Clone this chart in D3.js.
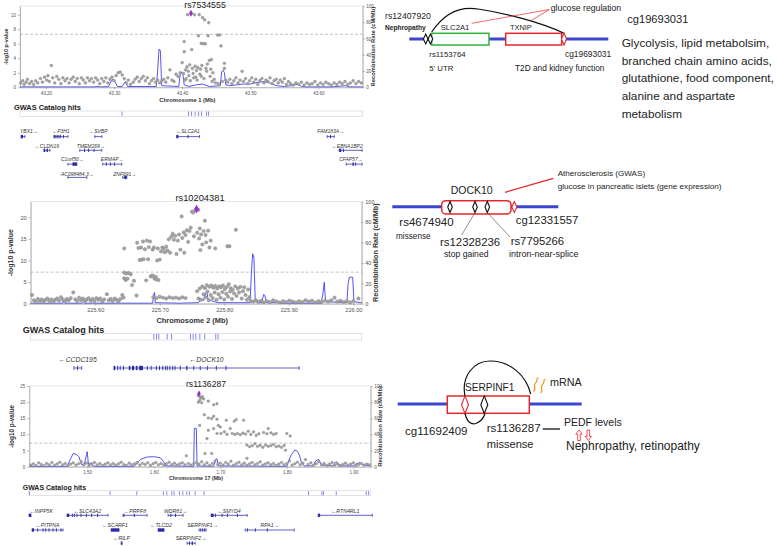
<!DOCTYPE html>
<html>
<head>
<meta charset="utf-8">
<script src="https://cdn.jsdelivr.net/npm/d3@7"></script>
<style>
  body { margin: 0; background: #fff; }
  svg { display: block; font-family: "Liberation Sans", Arial, sans-serif; }
</style>
</head>
<body>
<svg id="chart" width="777" height="546"></svg>
<script>
// ---------- data ----------
const recTicks = [0, 20, 40, 60, 80, 100];
const sigLine = 7.3;

// chr1 panel
const xTicks1 = [43.2, 43.3, 43.4, 43.5, 43.6];
const yTicks1 = [0, 2, 4, 6, 8, 10];
const lead1 = [43.413, 10.2];
const snps1 = [
  [43.163,0.6],[43.166,0.9],[43.168,0.4],[43.171,0.7],[43.173,1.1],[43.176,0.5],[43.179,0.8],[43.182,0.4],[43.185,0.9],[43.188,0.6],
  [43.192,1.2],[43.195,0.7],[43.198,1.4],[43.201,1.0],[43.203,1.6],[43.205,0.8],[43.208,3.0],[43.210,1.3],[43.213,0.6],[43.216,1.5],
  [43.219,1.1],[43.222,0.5],[43.225,1.3],[43.228,0.9],[43.231,1.2],[43.234,0.6],[43.237,1.1],[43.240,1.4],[43.243,0.8],[43.246,1.2],
  [43.249,0.5],[43.252,1.3],[43.255,1.0],[43.258,0.6],[43.261,1.3],[43.264,0.9],[43.267,1.2],[43.270,0.7],[43.273,1.3],[43.276,1.0],
  [43.279,0.5],[43.282,1.2],[43.285,0.8],[43.288,1.3],[43.291,0.6],[43.294,1.1],[43.297,1.4],[43.300,0.9],[43.303,1.6],[43.306,2.0],
  [43.309,2.1],[43.312,1.7],[43.315,1.2],[43.318,0.6],[43.321,1.0],[43.324,0.4],[43.328,0.7],[43.331,1.1],[43.334,1.4],[43.337,0.8],
  [43.340,1.2],[43.343,1.5],[43.346,0.9],[43.349,1.3],[43.352,0.5],[43.355,0.9],[43.358,1.2],[43.361,0.7],[43.364,1.0],[43.367,0.6],
  [43.370,0.9],[43.373,1.1],[43.376,0.7],[43.379,1.3],[43.382,2.4],[43.385,1.0],[43.388,0.8],[43.391,1.8],[43.394,1.5],[43.397,2.0],
  [43.400,3.4],[43.402,1.9],[43.403,4.9],[43.403,6.3],[43.404,1.0],[43.405,2.4],[43.406,1.2],[43.407,2.8],[43.408,10.0],[43.409,2.2],
  [43.410,1.6],[43.411,3.1],[43.412,0.9],[43.414,5.2],[43.415,2.6],[43.416,1.9],[43.417,1.3],[43.418,10.0],[43.419,2.9],[43.420,1.4],
  [43.421,2.3],[43.422,1.0],[43.423,2.7],[43.424,7.1],[43.425,10.0],[43.426,1.8],[43.427,2.5],[43.428,6.05],[43.428,1.5],[43.429,3.0],
  [43.430,9.6],[43.431,6.0],[43.432,1.2],[43.433,9.3],[43.434,6.0],[43.435,2.6],[43.436,2.2],[43.437,3.2],[43.438,7.1],[43.439,8.9],
  [43.440,3.7],[43.441,1.5],[43.442,2.5],[43.443,3.8],[43.444,0.8],[43.445,2.0],[43.447,1.1],[43.449,0.6],[43.452,7.2],[43.453,0.5],
  [43.455,7.2],[43.457,5.7],[43.459,0.8],[43.462,3.3],[43.462,2.6],[43.464,1.0],
  [43.467,0.7],[43.470,1.1],[43.473,0.5],[43.476,0.9],[43.479,1.3],[43.482,0.6],[43.485,1.0],[43.488,2.2],[43.490,0.8],[43.493,1.2],
  [43.496,0.5],[43.499,0.9],[43.502,1.3],[43.505,0.7],[43.508,1.1],[43.511,0.4],[43.514,0.9],[43.517,1.2],[43.520,0.6],[43.523,1.0],
  [43.526,0.8],[43.529,1.3],[43.532,0.5],[43.535,0.9],[43.538,1.1],[43.541,0.6],[43.544,1.0],[43.547,0.7],[43.550,1.2],[43.553,0.4],
  [43.556,0.8],[43.559,0.5],[43.563,0.3],[43.567,0.6],[43.571,0.4],[43.575,0.7],[43.579,0.3],[43.583,0.6],[43.587,0.4],[43.591,0.5],
  [43.595,0.8],[43.599,0.3],[43.603,0.6],[43.607,0.4],[43.611,0.7],[43.615,0.5],[43.619,0.3],[43.623,0.6],[43.627,0.4],[43.631,0.7],
  [43.635,0.5],[43.639,0.8],[43.643,0.4],[43.647,0.6],[43.651,0.9],[43.655,0.5],[43.659,0.8],[43.663,0.6]
];
const recomb1 = [
  [43.162,0.5],[43.270,0.5],[43.278,1],[43.280,0.5],[43.292,0.8],[43.296,8],[43.299,10],[43.302,6],[43.305,1],[43.312,1],
  [43.315,5],[43.317,7],[43.320,1],[43.362,1],[43.364,20],[43.366,47],[43.368,45],[43.370,2],[43.395,1],[43.397,15],
  [43.399,19],[43.401,16],[43.403,3],[43.410,1],[43.420,3],[43.430,4],[43.440,1],[43.456,2],[43.458,19],[43.460,21],
  [43.462,18],[43.464,3],[43.470,2],[43.480,3],[43.490,4],[43.500,4],[43.510,6],[43.520,7],[43.530,5],[43.538,2],
  [43.550,1],[43.560,2],[43.570,4],[43.575,1],[43.580,0.5],[43.620,0.5],[43.640,2],[43.645,0.5],[43.665,0.5]
];
const gwas1 = [43.3118, 43.4094, 43.4138, 43.4190, 43.4241, 43.4285, 43.4358, 43.4387];
const genes1 = [
  ['YBX1', 43.1635, 43.1693, 0, 1, [[43.1635,43.1665]]],
  ['P3H1', 43.2118, 43.2323, 0, -1, [[43.2118,43.2128],[43.2140,43.2150],[43.2160,43.2170],[43.2185,43.2192],[43.2205,43.2212],[43.2250,43.2256]]],
  ['SVBP', 43.2718, 43.2821, 0, -1, []],
  ['SLC2A1', 43.3919, 43.4255, 0, -1, [[43.3919,43.3945],[43.4080,43.4085]]],
  ['FAM183A', 43.6129, 43.6232, 0, 1, [[43.6170,43.6176]]],
  ['CLDN19', 43.1971, 43.2059, 1, -1, [[43.1971,43.1990],[43.2010,43.2030]]],
  ['TMEM269', 43.2498, 43.2821, 1, 1, [[43.2560,43.2566],[43.2620,43.2630],[43.2700,43.2706]]],
  ['EBNA1BP2', 43.6305, 43.6642, 1, -1, [[43.6305,43.6335],[43.6360,43.6366]]],
  ['C1orf50', 43.2323, 43.2455, 2, 1, [[43.2390,43.2455]]],
  ['ERMAP', 43.2835, 43.3113, 2, 1, [[43.2880,43.2886],[43.2940,43.2946],[43.3000,43.3006]]],
  ['CFAP57', 43.6408, 43.6642, 2, 1, [[43.6500,43.6520],[43.6540,43.6546]]],
  ['AC098484.3', 43.2323, 43.2601, 3, 1, []],
  ['ZNF691', 43.3128, 43.3187, 3, 1, [[43.3150,43.3187]]]
];

// chr2 panel
const xTicks2 = [225.6, 225.7, 225.8, 225.9, 226.0];
const yTicks2 = [0, 5, 10, 15, 20];
const lead2 = [225.757, 21.9];
const snps2 = [
  [225.502,2.0],[225.505,0.8],[225.508,0.4],[225.511,1.1],[225.514,0.6],[225.517,1.0],[225.520,0.5],[225.523,0.9],[225.526,1.2],[225.529,0.6],
  [225.532,1.0],[225.535,0.4],[225.538,0.9],[225.541,1.2],[225.544,0.7],[225.547,1.5],[225.550,0.9],[225.553,0.5],[225.556,1.1],[225.559,0.8],
  [225.562,1.3],[225.566,2.6],[225.569,1.0],[225.572,0.6],[225.575,1.4],[225.578,0.8],[225.581,1.2],[225.584,0.5],[225.587,1.0],[225.590,1.3],
  [225.593,0.7],[225.596,1.1],[225.599,0.6],[225.602,1.3],[225.605,0.9],[225.608,1.2],[225.611,0.5],[225.614,1.0],[225.618,2.2],[225.621,0.8],
  [225.624,1.1],[225.627,0.6],[225.630,1.2],[225.633,0.9],[225.636,0.5],[225.639,1.1],[225.642,2.0],[225.644,1.4],
  [225.645,12.8],[225.645,7.2],[225.648,7.0],[225.652,7.1],[225.645,5.9],[225.647,5.5],[225.650,5.8],[225.655,6.8],[225.657,4.3],[225.660,5.3],
  [225.664,1.9],[225.665,14.1],[225.667,12.9],[225.669,10.1],[225.671,13.0],[225.672,10.2],[225.674,14.4],[225.675,10.3],[225.677,12.6],[225.679,5.4],
  [225.680,14.6],[225.682,10.3],[225.683,13.1],[225.685,14.4],[225.686,6.3],[225.688,6.5],[225.689,12.5],[225.690,6.4],[225.691,13.0],[225.692,5.8],
  [225.694,6.2],[225.695,5.6],[225.696,10.0],[225.697,12.8],[225.698,5.5],[225.700,10.2],[225.702,12.1],[225.704,13.0],[225.706,12.7],[225.708,11.9],
  [225.710,13.2],[225.712,12.3],[225.714,14.9],[225.716,11.8],[225.718,15.5],[225.720,16.2],[225.722,14.8],[225.724,15.7],[225.726,11.5],[225.728,14.6],
  [225.730,16.0],[225.732,12.5],[225.734,20.2],[225.735,15.2],[225.737,16.5],[225.738,11.8],[225.740,15.9],[225.742,17.0],[225.744,14.3],[225.746,16.8],
  [225.748,17.6],[225.750,21.3],[225.752,21.1],[225.753,15.6],[225.755,21.6],[225.758,16.4],[225.760,21.7],[225.761,15.1],[225.762,17.4],[225.763,12.4],
  [225.764,16.0],[225.766,13.7],[225.768,16.8],[225.770,19.2],[225.771,15.9],[225.772,14.2],[225.775,16.9],[225.777,13.0],[225.779,14.6],[225.786,12.8],
  [225.805,13.3],[225.808,13.3],[225.818,17.1],
  [225.690,1.5],[225.695,1.3],[225.700,1.6],[225.705,1.4],[225.710,1.2],[225.715,1.5],[225.720,1.3],[225.725,1.4],[225.730,1.2],[225.735,1.5],[225.740,1.3],
  [225.758,2.9],[225.760,1.2],[225.762,3.5],[225.764,0.9],[225.766,4.0],[225.768,2.2],[225.770,3.6],[225.771,1.5],[225.773,4.3],[225.774,2.8],
  [225.776,0.8],[225.777,3.9],[225.779,2.0],[225.780,4.2],[225.782,1.3],[225.783,3.7],[225.785,2.6],[225.786,4.1],[225.788,0.9],[225.789,3.5],
  [225.791,2.2],[225.792,4.0],[225.794,1.4],[225.795,3.8],[225.797,2.7],[225.798,4.2],[225.800,1.0],[225.801,3.4],[225.803,2.3],[225.804,3.9],
  [225.806,1.6],[225.807,4.5],[225.809,2.8],[225.810,3.6],[225.812,1.1],[225.813,3.2],[225.815,2.4],[225.817,4.0],[225.819,1.8],[225.821,3.5],
  [225.823,2.6],[225.825,3.9],[225.827,1.2],[225.829,2.9],[225.831,3.8],[225.833,2.0],[225.835,0.9],[225.837,3.3],[225.839,1.5],[225.841,0.6],
  [225.845,0.5],[225.849,0.8],[225.853,0.4],[225.857,0.7],[225.861,0.3],[225.866,0.6],[225.871,0.4],[225.876,0.8],[225.881,0.5],[225.886,0.3],
  [225.891,0.6],[225.896,0.4],[225.901,0.7],[225.906,0.5],[225.911,0.3],[225.916,0.6],[225.921,0.4],[225.926,0.8],[225.931,0.5],[225.936,0.7],
  [225.941,0.3],[225.946,0.6],[225.951,0.4],[225.956,0.7],[225.961,0.5],[225.966,0.8],[225.971,1.4],[225.975,0.5],[225.980,0.7],[225.985,0.4],
  [225.990,0.6],[225.995,0.3],[226.000,0.6],[226.008,1.2]
];
const recomb2 = [
  [225.500,0.5],[225.550,0.5],[225.551,2],[225.553,0.5],[225.580,0.5],[225.582,1.5],[225.584,0.5],[225.640,0.5],[225.689,0.5],[225.691,10],
  [225.692,11],[225.693,1],[225.730,0.5],[225.760,1],[225.765,5],[225.768,3],[225.771,10],[225.773,12],[225.775,4],[225.780,3],
  [225.790,1],[225.840,1],[225.842,30],[225.844,49],[225.846,45],[225.848,2],[225.858,1],[225.861,9],[225.863,8],[225.865,1],
  [225.880,1],[225.882,2],[225.884,0.5],[225.950,0.5],[225.953,10],[225.955,21],[225.957,2],[225.990,1],[225.992,20],[225.994,26],
  [225.999,26],[226.001,2],[226.013,1]
];
const gwas2 = [225.6909, 225.6950, 225.6986, 225.7115, 225.7183, 225.7477, 225.7517, 225.7559, 225.7621, 225.7698, 225.7868, 225.7904];
const genes2 = [
  ['CCDC195', 225.567, 225.579, 0, -1, [[225.572,225.573]]],
  ['DOCK10', 225.629, 225.916, 0, -1, [
    [225.629,225.631],[225.634,225.6355],[225.638,225.639],[225.643,225.644],[225.652,225.6545],[225.657,225.6605],[225.663,225.6655],
    [225.668,225.674],[225.680,225.681],[225.686,225.687],[225.694,225.695],[225.699,225.700],[225.704,225.705],[225.708,225.709],
    [225.711,225.712],[225.715,225.716],[225.7195,225.7205],[225.723,225.724],[225.731,225.732],[225.741,225.743],[225.752,225.753],
    [225.762,225.763],[225.773,225.774],[225.787,225.788],[225.802,225.803]]]
];

// chr17 panel
const xTicks3 = [1.5, 1.6, 1.7, 1.8, 1.9];
const yTicks3 = [0, 5, 10, 15, 20, 25];
const lead3 = [1.668, 22.6];
const snps3 = [
  [1.415,0.5],[1.419,0.9],[1.423,0.4],[1.427,1.2],[1.431,0.7],[1.435,0.3],[1.439,1.0],[1.443,0.6],[1.447,1.3],[1.451,0.5],
  [1.455,0.9],[1.459,1.4],[1.463,0.6],[1.467,1.0],[1.471,0.4],[1.475,0.8],[1.479,1.2],[1.483,0.5],[1.487,0.9],[1.491,1.5],
  [1.495,0.7],[1.499,1.1],[1.503,0.4],[1.507,0.9],[1.511,1.3],[1.515,0.6],[1.519,1.0],[1.523,0.4],[1.527,0.8],[1.531,1.2],
  [1.535,0.6],[1.539,1.0],[1.543,0.5],[1.547,0.9],[1.551,1.4],[1.555,0.7],[1.559,0.4],[1.563,1.1],[1.567,0.6],[1.571,0.9],
  [1.575,1.3],[1.579,0.5],[1.583,1.0],[1.587,0.7],[1.591,1.2],[1.595,0.4],[1.599,0.9],[1.603,1.3],[1.607,0.6],[1.611,1.0],
  [1.615,0.5],[1.619,0.9],[1.623,1.4],[1.627,0.7],[1.631,1.1],[1.635,0.5],[1.639,0.9],[1.643,1.2],[1.647,0.6],[1.649,3.4],
  [1.652,1.0],[1.656,0.5],[1.660,0.9],[1.664,1.3],
  [1.668,0.8],[1.672,1.5],[1.676,0.6],[1.680,1.2],[1.684,0.4],[1.688,1.0],[1.692,1.6],[1.696,0.7],[1.700,1.1],[1.704,0.5],
  [1.708,1.3],[1.712,0.8],[1.716,1.7],[1.720,0.5],[1.724,1.0],[1.728,1.4],[1.732,0.6],[1.736,1.1],[1.740,0.4],[1.744,0.9],
  [1.748,1.3],[1.752,0.6],[1.756,1.0],[1.760,1.5],[1.764,0.5],[1.768,0.9],[1.772,1.2],[1.776,0.6],[1.780,1.0],[1.784,0.4],
  [1.788,0.8],[1.792,1.3],[1.796,0.6],[1.800,1.0],[1.804,1.8],[1.808,0.5],[1.812,0.9],[1.816,1.4],[1.820,0.6],[1.824,1.1],
  [1.828,2.2],[1.832,0.7],[1.836,1.2],[1.840,0.5],[1.844,0.9],[1.848,1.5],[1.852,0.6],[1.856,1.0],[1.860,0.4],[1.864,0.8],
  [1.868,1.3],[1.872,0.5],[1.876,0.9],[1.880,0.4],[1.884,0.7],[1.888,1.1],[1.892,0.5],[1.896,0.8],[1.900,1.2],[1.904,0.4],
  [1.908,0.7],[1.912,1.0],[1.916,0.5],[1.920,0.8],[1.924,0.6],
  [1.667,22.0],[1.670,21.6],[1.669,20.6],[1.671,21.3],[1.673,21.7],[1.675,21.0],[1.667,20.0],[1.672,19.8],[1.682,20.3],[1.690,19.2],
  [1.695,19.5],[1.676,16.1],[1.682,15.1],[1.687,14.9],[1.690,15.6],[1.695,14.7],[1.697,12.8],[1.700,12.3],[1.709,14.4],[1.721,14.1],
  [1.724,14.6],[1.735,14.4],[1.669,12.8],[1.682,11.3],[1.690,11.8],[1.695,10.3],[1.701,10.3],[1.706,10.8],[1.710,10.0],[1.715,11.8],
  [1.718,10.3],[1.722,10.0],[1.726,10.3],[1.730,9.9],[1.734,10.4],[1.738,10.1],[1.742,11.0],[1.746,10.0],[1.750,10.8],[1.754,9.7],
  [1.758,10.2],[1.765,10.6],[1.770,10.2],[1.772,11.8],[1.776,10.5],[1.780,10.0],[1.784,10.3],[1.800,10.3],[1.805,9.5],
  [1.680,8.7],[1.740,6.7],[1.744,6.2],[1.748,6.5],[1.752,7.1],[1.756,6.3],[1.760,6.6],[1.764,6.0],[1.768,6.7],[1.772,6.3],
  [1.776,6.5],[1.780,6.9],[1.784,6.2],[1.788,6.4],[1.792,6.0],[1.796,6.6],[1.798,5.1],[1.677,4.1],[1.687,4.1],[1.740,2.6]
];
const recomb3 = [
  [1.413,0.5],[1.470,0.5],[1.474,8],[1.479,16.5],[1.484,15],[1.488,12],[1.491,3],[1.495,1],[1.499,15],[1.500,18.6],
  [1.502,2],[1.505,5],[1.508,1],[1.515,0.5],[1.570,0.5],[1.575,4],[1.580,9],[1.590,12],[1.600,12.4],[1.610,11],
  [1.615,6],[1.618,1],[1.660,0.5],[1.661,47.5],[1.664,47.5],[1.665,1],[1.690,0.5],[1.693,9],[1.695,10],[1.697,1],
  [1.800,0.5],[1.803,8],[1.807,15],[1.812,20.7],[1.816,19],[1.819,14],[1.822,5],[1.826,1],[1.840,1],[1.843,7],
  [1.848,9],[1.852,2],[1.870,1],[1.872,5],[1.875,6],[1.878,1],[1.900,1],[1.905,4],[1.910,5],[1.915,2],[1.926,1]
];
const gwas3 = [1.413, 1.5344, 1.5745, 1.6145, 1.6196, 1.6271, 1.6306, 1.6386, 1.6437, 1.6497, 1.6536, 1.6622, 1.6757,
  1.8326, 1.8527, 1.8551, 1.8742, 1.9193, 1.9228];
const genes3 = [
  ['INPP5K', 1.4126, 1.4156, 0, -1, [[1.4126,1.4156]]],
  ['SLC43A2', 1.4697, 1.5313, 0, -1, [[1.4697,1.4730],[1.4770,1.4775],[1.4800,1.4805],[1.4840,1.4850],[1.4900,1.4905],[1.4980,1.4985],[1.5060,1.5065],[1.5150,1.5155]]],
  ['PRPF8', 1.5539, 1.5900, 0, -1, [[1.5545,1.5550],[1.5700,1.5705]]],
  ['WDR81', 1.6216, 1.6441, 0, 1, [[1.6250,1.6256],[1.6320,1.6330]]],
  ['SMYD4', 1.6862, 1.7404, 0, -1, [[1.6862,1.6900],[1.6920,1.6930],[1.7020,1.7030],[1.7100,1.7105],[1.7250,1.7255]]],
  ['RTN4RL1', 1.8471, 1.9283, 0, -1, [[1.8471,1.8500]]],
  ['PITPNA', 1.4171, 1.4637, 1, -1, [[1.4171,1.4200],[1.4250,1.4256],[1.4330,1.4340],[1.4370,1.4376],[1.4420,1.4426],[1.4480,1.4486],[1.4530,1.4536],[1.4600,1.4606]]],
  ['SCARF1', 1.5359, 1.5479, 1, -1, [[1.5359,1.5479]]],
  ['TLCD2', 1.6065, 1.6155, 1, -1, [[1.6065,1.6155]]],
  ['SERPINF1', 1.6682, 1.6787, 1, 1, [[1.6700,1.6705],[1.6730,1.6735],[1.6760,1.6765]]],
  ['RPA1', 1.7374, 1.8111, 1, 1, [[1.7400,1.7405],[1.7520,1.7530],[1.7700,1.7705]]],
  ['RILP', 1.5510, 1.5524, 2, -1, [[1.5510,1.5524]]],
  ['SERPINF2', 1.6501, 1.6621, 2, 1, [[1.6530,1.6540],[1.6570,1.6590]]]
];

// ---------- drawing ----------
const FONT = '"Liberation Sans", Arial, sans-serif';
const svg = d3.select('#chart');

function styleAxis(sel, fs) {
  sel.attr('font-size', fs).attr('font-family', FONT);
  sel.select('.domain').attr('stroke', '#8a8a8a').attr('stroke-width', 0.6);
  sel.selectAll('.tick line').attr('stroke', '#8a8a8a').attr('stroke-width', 0.6);
  sel.selectAll('.tick text').attr('fill', '#555');
}

function drawPanel(c) {
  const x = d3.scaleLinear().domain(c.xDomain).range([c.left, c.right]);
  const y = d3.scaleLinear().domain([0, c.yMax]).range([c.bottom, c.top]);
  const yr = d3.scaleLinear().domain([0, 100]).range([c.bottom, c.top]);
  const g = svg.append('g');

  g.append('rect')
    .attr('x', c.left).attr('y', c.top)
    .attr('width', c.right - c.left).attr('height', c.bottom - c.top)
    .attr('fill', 'none').attr('stroke', '#d8d8d8').attr('stroke-width', 0.6);

  // 5e-8 line
  g.append('line')
    .attr('x1', c.left).attr('x2', c.right)
    .attr('y1', y(sigLine)).attr('y2', y(sigLine))
    .attr('stroke', '#a8a8a8').attr('stroke-width', 0.7).attr('stroke-dasharray', '3,2');

  // recombination rate
  g.append('path').datum(c.recomb)
    .attr('fill', 'none').attr('stroke', '#2b2bf0').attr('stroke-width', 0.8)
    .attr('d', d3.line().x(d => x(d[0])).y(d => yr(d[1])));

  // SNPs
  g.append('g').selectAll('circle').data(c.snps).join('circle')
    .attr('cx', d => x(d[0])).attr('cy', d => y(d[1])).attr('r', c.r)
    .attr('fill', '#a4a4a4').attr('stroke', '#7e7e7e').attr('stroke-width', 0.4);

  g.append('path')
    .attr('d', d3.symbol(d3.symbolDiamond, c.r * c.r * 7)())
    .attr('transform', `translate(${x(c.lead[0])},${y(c.lead[1])})`)
    .attr('fill', '#9b2fcb');

  // axes
  g.append('g').attr('transform', `translate(${c.left},0)`)
    .call(d3.axisLeft(y).tickValues(c.yTicks).tickSize(2).tickPadding(2).tickSizeOuter(0))
    .call(styleAxis, c.tickFs);
  g.append('g').attr('transform', `translate(${c.right},0)`)
    .call(d3.axisRight(yr).tickValues(recTicks).tickSize(2).tickPadding(1.5).tickSizeOuter(0))
    .call(styleAxis, c.tickFs);
  g.append('g').attr('transform', `translate(0,${c.bottom})`)
    .call(d3.axisBottom(x).tickValues(c.xTicks).tickFormat(d3.format('.2f')).tickSize(2).tickPadding(2).tickSizeOuter(0))
    .call(styleAxis, c.tickFs);

  // titles and labels
  g.append('text').attr('x', c.titleX).attr('y', c.titleY)
    .attr('text-anchor', 'middle').attr('font-size', c.titleFs).attr('fill', '#222')
    .text(c.title);
  g.append('text')
    .attr('transform', `translate(${c.yLabX},${(c.top + c.bottom) / 2}) rotate(-90)`)
    .attr('text-anchor', 'middle').attr('dominant-baseline', 'central')
    .attr('font-size', c.labFs).attr('font-weight', 'bold').attr('fill', '#333')
    .text('-log10 p-value');
  g.append('text')
    .attr('transform', `translate(${c.rLabX},${(c.top + c.bottom) / 2}) rotate(-90)`)
    .attr('text-anchor', 'middle').attr('dominant-baseline', 'central')
    .attr('font-size', c.rLabFs).attr('font-weight', 'bold').attr('fill', '#333')
    .text('Recombination Rate (cM/Mb)');
  g.append('text').attr('x', (c.left + c.right) / 2 - 4).attr('y', c.chrY)
    .attr('text-anchor', 'middle').attr('font-size', c.chrFs).attr('font-weight', 'bold').attr('fill', '#333')
    .text(c.chrLabel);

  // GWAS catalog track
  g.append('text').attr('x', c.gwasLabX).attr('y', c.gwasLabY)
    .attr('font-size', c.gwasFs).attr('font-weight', 'bold').attr('fill', '#222')
    .text('GWAS Catalog hits');
  g.append('rect')
    .attr('x', c.left).attr('y', c.gwasY0)
    .attr('width', c.right - c.left).attr('height', c.gwasY1 - c.gwasY0)
    .attr('fill', 'none').attr('stroke', '#cfcfd8').attr('stroke-width', 0.6);
  g.append('g').selectAll('line').data(c.gwas).join('line')
    .attr('x1', d => x(d)).attr('x2', d => x(d))
    .attr('y1', c.gwasY0 + 0.5).attr('y2', c.gwasY1 - 0.5)
    .attr('stroke', '#6a6ae6').attr('stroke-width', 0.8);

  // genes
  const gg = g.append('g');
  c.genes.forEach(([name, s, e, row, strand, exons]) => {
    const yb = c.barY[row];
    const x0 = x(s), x1 = x(e);
    gg.append('line').attr('x1', x0).attr('x2', x1).attr('y1', yb).attr('y2', yb)
      .attr('stroke', '#3a3ab4').attr('stroke-width', 0.8);
    [x0, x1].forEach(xx => gg.append('line')
      .attr('x1', xx).attr('x2', xx).attr('y1', yb - c.capH / 2).attr('y2', yb + c.capH / 2)
      .attr('stroke', '#3a3ab4').attr('stroke-width', 0.8));
    exons.forEach(([a, b]) => gg.append('rect')
      .attr('x', x(a)).attr('width', Math.max(x(b) - x(a), 0.9))
      .attr('y', yb - c.exH / 2).attr('height', c.exH)
      .attr('fill', '#2b2ba6'));
    const label = strand < 0 ? '\u2190' + name : name + '\u2192';
    const t = gg.append('text').attr('x', (x0 + x1) / 2).attr('y', c.labY[row])
      .attr('text-anchor', 'middle').attr('font-size', c.geneFs)
      .attr('font-style', 'italic').attr('fill', '#333').text(label);
    const w = t.node().getComputedTextLength();
    const cx = Math.min(Math.max((x0 + x1) / 2, c.left + w / 2), c.right - w / 2);
    t.attr('x', cx);
  });
}

drawPanel({
  snps: snps1, lead: lead1, recomb: recomb1, gwas: gwas1, genes: genes1,
  xDomain: [43.162, 43.665], yMax: 11.2, xTicks: xTicks1, yTicks: yTicks1,
  left: 20, right: 362.7, top: 6, bottom: 87.3, r: 1.4,
  title: 'rs7534555', titleX: 205, titleY: 7.5, titleFs: 8.8, tickFs: 4.6,
  yLabX: 5.7, labFs: 5.4, rLabX: 372.5, rLabFs: 5.8,
  chrLabel: 'Chromosome 1 (Mb)', chrY: 101.8, chrFs: 5.8,
  gwasLabX: 14, gwasLabY: 110, gwasFs: 7.4, gwasY0: 111, gwasY1: 116.3,
  labY: [133, 147.7, 161.2, 175.6], barY: [136.6, 150.3, 164.1, 177.4],
  geneFs: 5, capH: 3, exH: 3.4
});

drawPanel({
  snps: snps2, lead: lead2, recomb: recomb2, gwas: gwas2, genes: genes2,
  xDomain: [225.50, 226.013], yMax: 23.6, xTicks: xTicks2, yTicks: yTicks2,
  left: 30.7, right: 361.7, top: 201.7, bottom: 303.7, r: 1.7,
  title: 'rs10204381', titleX: 200, titleY: 200.8, titleFs: 9.3, tickFs: 5.6,
  yLabX: 10, labFs: 7, rLabX: 375, rLabFs: 7.2,
  chrLabel: 'Chromosome 2 (Mb)', chrY: 322.6, chrFs: 7.4,
  gwasLabX: 22.7, gwasLabY: 333.2, gwasFs: 9, gwasY0: 333.3, gwasY1: 340,
  labY: [362.3], barY: [368],
  geneFs: 6.8, capH: 4, exH: 4.4
});

drawPanel({
  snps: snps3, lead: lead3, recomb: recomb3, gwas: gwas3, genes: genes3,
  xDomain: [1.413, 1.926], yMax: 25, xTicks: xTicks3, yTicks: yTicks3,
  left: 29.3, right: 370.7, top: 386, bottom: 466.7, r: 1.3,
  title: 'rs1136287', titleX: 206, titleY: 387, titleFs: 8.6, tickFs: 4.5,
  yLabX: 11.7, labFs: 6.4, rLabX: 379.5, rLabFs: 5.9,
  chrLabel: 'Chromosome 17 (Mb)', chrY: 480.3, chrFs: 5.3,
  gwasLabX: 22.7, gwasLabY: 489.8, gwasFs: 7, gwasY0: 490.7, gwasY1: 495.7,
  labY: [513.3, 526.7, 540.3], barY: [515.3, 530, 543.2],
  geneFs: 5.2, capH: 3, exH: 3.4
});

// ---------- annotation diagrams ----------
const BLUE = '#3b46cf', RED = '#e8262d', GREEN = '#2cb23c';
const dg = svg.append('g');

function txt(x, y, s, fs, fill = '#222') {
  return dg.append('text').attr('x', x).attr('y', y).attr('font-size', fs).attr('fill', fill).text(s);
}
function line(x1, y1, x2, y2, stroke, w) {
  return dg.append('line').attr('x1', x1).attr('y1', y1).attr('x2', x2).attr('y2', y2)
    .attr('stroke', stroke).attr('stroke-width', w);
}
function diamond(cx, cy, hw, hh, stroke) {
  return dg.append('path')
    .attr('d', `M${cx},${cy - hh}L${cx + hw},${cy}L${cx},${cy + hh}L${cx - hw},${cy}Z`)
    .attr('fill', '#fff').attr('stroke', stroke).attr('stroke-width', 1.1);
}
function box(x, y, w, h, stroke, rx = 0) {
  return dg.append('rect').attr('x', x).attr('y', y).attr('width', w).attr('height', h).attr('rx', rx)
    .attr('fill', '#fff').attr('stroke', stroke).attr('stroke-width', 1.5);
}
function curve(d, stroke, w) {
  return dg.append('path').attr('d', d).attr('fill', 'none').attr('stroke', stroke).attr('stroke-width', w);
}

// diagram 1: SLC2A1 / TXNIP
line(409.3, 39, 608.3, 39, BLUE, 3);
box(431.7, 33.3, 57.3, 11.7, GREEN);
box(505.7, 33.3, 56, 11.7, RED);
diamond(425.7, 39, 2.3, 5, '#111');
diamond(430.4, 39, 2.3, 5, '#111');
diamond(564, 39, 2.5, 6, RED);
curve('M431.7,32 C445,12 460,6 478,9 C505,13 540,22 563.5,33', '#111', 1.2);
line(549.3, 9.5, 471.7, 23.3, RED, 0.7);
line(549.3, 9.5, 531, 20.7, RED, 0.7);
txt(385, 18.5, 'rs12407920', 8.7);
txt(385, 29.5, 'Nephropathy', 6.6).attr('font-weight', 'bold');
txt(440.7, 30, 'SLC2A1', 7.7);
txt(510, 30, 'TXNIP', 7.4);
txt(550.7, 10.5, 'glucose regulation', 8.7);
txt(429.3, 57, 'rs1153764', 7.8);
txt(429.3, 70.5, "5' UTR", 7.8);
txt(565, 57, 'cg19693031', 8.4);
txt(515, 70.5, 'T2D and kidney function', 8.3);
txt(627.3, 22.5, 'cg19693031', 11.1);
['Glycolysis, lipid metabolsim,', 'branched chain amino acids,', 'glutathione, food component,',
 'alanine and aspartate', 'metabolism'].forEach((s, i) => txt(621.7, 47 + i * 17.7, s, 11.8));

// diagram 2: DOCK10
line(392.3, 206.7, 558.3, 206.7, BLUE, 3);
box(441.7, 200.7, 69.3, 13.3, RED, 4);
diamond(450, 207, 2.3, 5.5, '#111');
diamond(475, 207, 2.3, 5.5, '#111');
diamond(487.3, 207, 2.3, 5.5, '#111');
diamond(514.3, 207, 2.5, 5.5, RED);
line(475, 212.5, 461.7, 235, '#444', 0.6);
line(487.3, 212.5, 510, 237, '#444', 0.6);
line(505, 192.3, 553.3, 178.3, RED, 1.2);
txt(450.7, 193.5, 'DOCK10', 10.5);
txt(557.7, 175.5, 'Atherosclerosis (GWAS)', 8.1);
txt(557.7, 188.5, 'glucose in pancreatic islets (gene expression)', 8.1);
txt(399.3, 226.3, 'rs4674940', 11.5);
txt(396, 238.5, 'missense', 8.2);
txt(440, 246, 'rs12328236', 11.4);
txt(444, 257, 'stop gained', 8.6);
txt(510.7, 245.3, 'rs7795266', 11.3);
txt(509, 257, 'intron-near-splice', 9);
txt(515.7, 224.3, 'cg12331557', 11.4);

// diagram 3: SERPINF1
line(397.7, 404, 581.7, 404, BLUE, 3);
box(447.3, 396, 82, 17.3, RED);
diamond(465, 404.7, 3.5, 8.8, RED);
diamond(484.3, 404.7, 3.5, 8.8, '#111');
curve('M465,396 C461,376 474,361 490,361 C510,361 526,375 530.7,394', '#111', 1.2);
curve('M465,413.5 C467,422 471,425 476,423.5 C481,421.5 484,417 485,413.5', '#111', 1.2);
curve('M533.5,391.5 C537,389 532.5,385 535.5,383 C538.5,381 535,379 538.5,377.5', '#f09a2c', 1.3);
curve('M540.5,393 C544,390.5 539.5,386.5 542.5,384.5 C545.5,382.5 542,380.5 545.5,379', '#f09a2c', 1.3);
line(542.7, 429, 560, 429, '#111', 1.3);
txt(465, 391.3, 'SERPINF1', 10.1);
txt(550, 386, 'mRNA', 10.8);
txt(405, 435.3, 'cg11692409', 11.5);
txt(486.7, 432, 'rs1136287', 11.6);
txt(486.7, 447.6, 'missense', 11.1);
txt(564, 426, 'PEDF levels', 10.5);
txt(566, 450.3, 'Nephropathy, retinopathy', 12);
// up / down arrows
dg.append('path').attr('d', 'M579,430 L582.2,434.2 L580.3,434.2 L580.3,440.5 L577.7,440.5 L577.7,434.2 L575.8,434.2 Z')
  .attr('fill', '#fff').attr('stroke', RED).attr('stroke-width', 0.8);
dg.append('path').attr('d', 'M588.3,440.5 L591.5,436.3 L589.6,436.3 L589.6,430 L587,430 L587,436.3 L585.1,436.3 Z')
  .attr('fill', '#fff').attr('stroke', RED).attr('stroke-width', 0.8);
</script>
</body>
</html>
